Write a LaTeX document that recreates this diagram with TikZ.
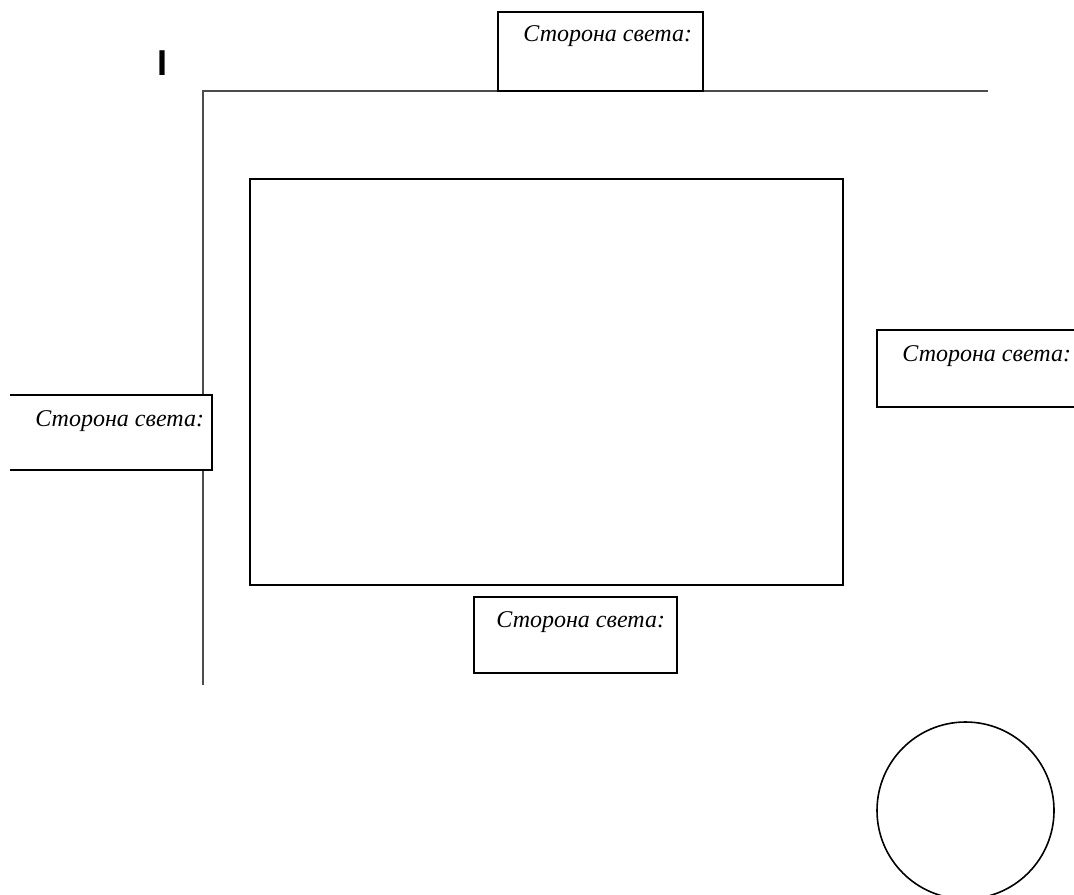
\documentclass[tikz,border=0pt]{standalone}
\usepackage{fontspec}
\setmainfont{Liberation Serif}
\newfontfamily\roadfont{Liberation Sans}
\tikzset{
  sidebox/.style={draw=black,fill=white,line width=0.8pt},
  sidetext/.style={anchor=west,inner sep=0pt,font=\itshape\fontsize{12}{14}\selectfont},
  road/.style={draw=black!70,line width=1.2pt}
}
\begin{document}
\begin{tikzpicture}[x=0.5pt,y=-0.5pt]
   \useasboundingbox (0,0) rectangle (1074,894);
   \clip (0,0) rectangle (1074,894);
   \node[font=\roadfont\bfseries\fontsize{18}{20}\selectfont,inner sep=0pt] (mark) at (162,63) {I};
   \draw[road] (203,685) -- (203,91) -- (988,91);
   \draw[line width=0.8pt] (250,179) rectangle (843,585);
   \draw[sidebox] (498,12) rectangle (703,91);
   \node[sidetext] (north) at (523,36) {Сторона света:};
   \fill[white] (10,395) rectangle (212,470);
   \draw[line width=0.8pt] (10,395) -- (212,395) -- (212,470) -- (10,470);
   \node[sidetext] (west) at (35,421) {Сторона света:};
   \draw[sidebox] (877,330) rectangle (1080,407);
   \node[sidetext] (east) at (902,356) {Сторона света:};
   \draw[sidebox] (474,597) rectangle (677,673);
   \node[sidetext] (south) at (496,622) {Сторона света:};
   \draw[line width=0.8pt] (965.5,810.5) circle(88.5);
 \end{tikzpicture}
\end{document}
